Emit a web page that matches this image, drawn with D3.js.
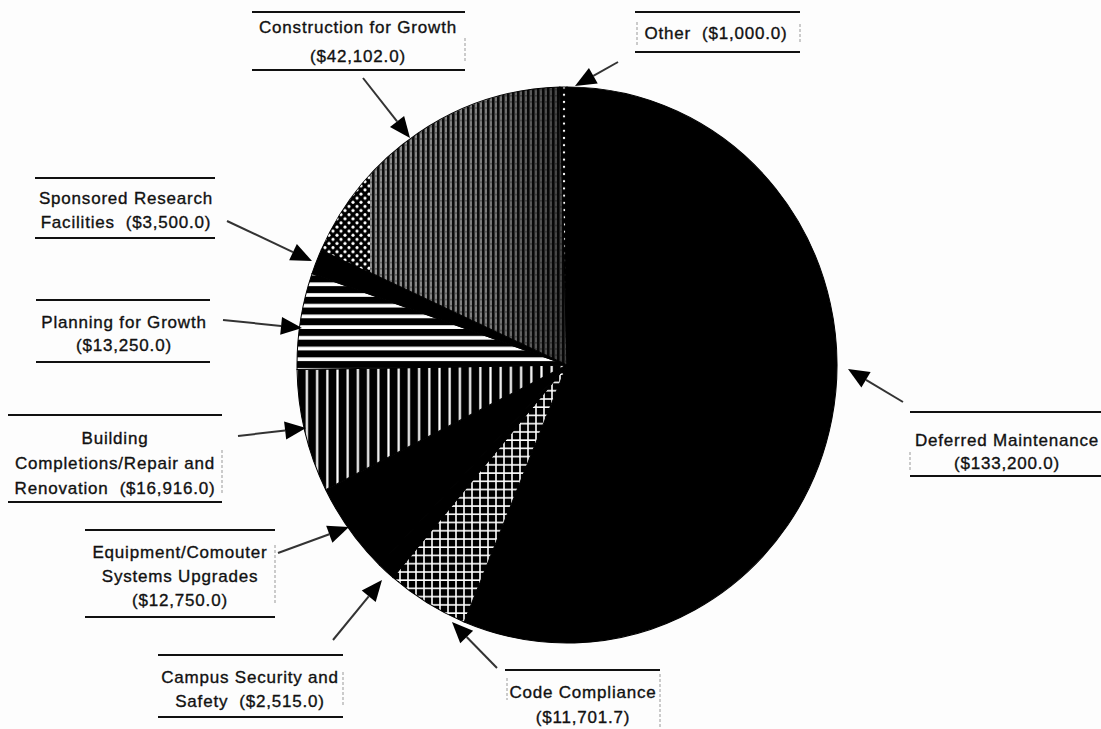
<!DOCTYPE html>
<html>
<head>
<meta charset="utf-8">
<script src="https://cdn.jsdelivr.net/npm/d3@7"></script>
<style>
  html, body { margin: 0; padding: 0; background: #fdfdfd; }
  svg { display: block; }
  .lbl { font-family: "Liberation Sans", Arial, Helvetica, sans-serif; font-size: 17px; letter-spacing: 0.8px; fill: #111; stroke: #111; stroke-width: 0.35px; white-space: pre; }
</style>
</head>
<body>
<script>
// Capital request by program area (thousands of dollars), clockwise from 12 o'clock
const categories = [
  "Deferred Maintenance",
  "Code Compliance",
  "Campus Security and Safety",
  "Equipment/Comouter Systems Upgrades",
  "Building Completions/Repair and Renovation",
  "Planning for Growth",
  "Sponsored Research Facilities",
  "Construction for Growth",
  "Other"
];
const values = [133200.0, 11701.7, 2515.0, 12750.0, 16916.0, 13250.0, 3500.0, 42102.0, 1000.0];

// How each label breaks into lines; {v} is replaced by the formatted amount
const labelLines = [
  ["Deferred Maintenance", "({v})"],
  ["Code Compliance", "({v})"],
  ["Campus Security and", "Safety  ({v})"],
  ["Equipment/Comouter", "Systems Upgrades", "({v})"],
  ["Building", "Completions/Repair and", "Renovation  ({v})"],
  ["Planning for Growth", "({v})"],
  ["Sponsored Research", "Facilities  ({v})"],
  ["Construction for Growth", "({v})"],
  ["Other  ({v})"]
];

// Fill style of each wedge
const fillKinds = ["solid", "grid", "solid", "solid", "vlines", "hlines", "solid", "fineV", "dots"];

// ---- layout ----
const W = 1101, H = 729;
const center = { x: 567, y: 365 };
const R = 270, yStretch = 278 / 270;

const labelLayout = {
  "Deferred Maintenance":                    { cx: 1007, ys: [440, 463], rx: [910, 1101], ry: [412, 476], arrow: [903, 402, 848, 369], sides: [[910, 452, 470]] },
  "Code Compliance":                         { cx: 583, ys: [692, 717], rx: [505, 660], ry: [670], arrow: [497, 668, 452, 622], sides: [[507, 678, 700], [660, 674, 729]] },
  "Campus Security and Safety":              { cx: 250, ys: [677, 701], rx: [158, 343], ry: [655, 717], arrow: [333, 640, 382, 580], sides: [[343, 672, 706]] },
  "Equipment/Comouter Systems Upgrades":     { cx: 180, ys: [552, 576, 600], rx: [85, 275], ry: [530, 617], arrow: [278, 553, 349, 527], sides: [[275, 545, 605]] },
  "Building Completions/Repair and Renovation": { cx: 115, ys: [438, 463, 488], rx: [8, 222], ry: [415, 502], arrow: [238, 436, 306, 428], sides: [[222, 450, 495]] },
  "Planning for Growth":                     { cx: 124, ys: [322, 345], rx: [36, 210], ry: [300, 362], arrow: [223, 320, 302, 328], sides: [] },
  "Sponsored Research Facilities":           { cx: 126, ys: [198, 222], rx: [35, 215], ry: [178, 238], arrow: [227, 221, 312, 261], sides: [] },
  "Construction for Growth":                 { cx: 358, ys: [27, 56], rx: [252, 465], ry: [12, 70], arrow: [363, 78, 410, 138], sides: [[465, 38, 62]] },
  "Other":                                   { cx: 716, ys: [33], rx: [635, 800], ry: [12, 52], arrow: [618, 62, 575, 86], sides: [[637, 22, 45], [800, 24, 44]] }
};

const fmt = v => "$" + d3.format(",.1f")(v);

const svg = d3.select("body").append("svg")
  .attr("width", W).attr("height", H)
  .attr("viewBox", `0 0 ${W} ${H}`);

svg.append("rect").attr("width", W).attr("height", H).attr("fill", "#fdfdfd");

// ---- fill patterns ----
const defs = svg.append("defs");

const grid = defs.append("pattern").attr("id", "p-grid")
  .attr("patternUnits", "userSpaceOnUse").attr("width", 8).attr("height", 8);
grid.append("rect").attr("width", 8).attr("height", 8).attr("fill", "#000");
grid.append("path").attr("d", "M0 1H8M1 0V8").attr("stroke", "#fff").attr("stroke-width", 1.6);

const vl = defs.append("pattern").attr("id", "p-vlines")
  .attr("patternUnits", "userSpaceOnUse").attr("width", 10.2).attr("height", 10);
vl.append("rect").attr("width", 10.2).attr("height", 10).attr("fill", "#000");
vl.append("rect").attr("x", 4).attr("width", 2.2).attr("height", 10).attr("fill", "#fff");

const hl = defs.append("pattern").attr("id", "p-hlines")
  .attr("patternUnits", "userSpaceOnUse").attr("width", 10).attr("height", 10.4);
hl.append("rect").attr("width", 10).attr("height", 10.4).attr("fill", "#000");
hl.append("rect").attr("y", 3).attr("width", 10).attr("height", 3.6).attr("fill", "#fff");

const fv = defs.append("pattern").attr("id", "p-fineV")
  .attr("patternUnits", "userSpaceOnUse").attr("width", 5).attr("height", 6);
fv.append("rect").attr("width", 5).attr("height", 6).attr("fill", "#9c9c9c");
fv.append("rect").attr("x", 0).attr("width", 2.6).attr("height", 6).attr("fill", "#0c0c0c");
fv.append("rect").attr("x", 2.6).attr("y", 2).attr("width", 2.4).attr("height", 1).attr("fill", "#555");

const dm = defs.append("pattern").attr("id", "p-diamond")
  .attr("patternUnits", "userSpaceOnUse").attr("width", 8).attr("height", 8);
dm.append("rect").attr("width", 8).attr("height", 8).attr("fill", "#000");
dm.append("circle").attr("cx", 2).attr("cy", 2).attr("r", 1.6).attr("fill", "#fff");
dm.append("circle").attr("cx", 6).attr("cy", 6).attr("r", 1.6).attr("fill", "#fff");

const dt = defs.append("pattern").attr("id", "p-dots")
  .attr("patternUnits", "userSpaceOnUse").attr("width", 6).attr("height", 7);
dt.append("rect").attr("width", 6).attr("height", 7).attr("fill", "#000");
dt.append("circle").attr("cx", 3).attr("cy", 3.5).attr("r", 1.2).attr("fill", "#fff");

const shade = defs.append("linearGradient").attr("id", "g-shade")
  .attr("gradientUnits", "userSpaceOnUse")
  .attr("x1", -R).attr("x2", 0).attr("y1", 0).attr("y2", 0);
shade.append("stop").attr("offset", 0).attr("stop-color", "#000").attr("stop-opacity", 0);
shade.append("stop").attr("offset", 0.7).attr("stop-color", "#000").attr("stop-opacity", 0.2);
shade.append("stop").attr("offset", 1).attr("stop-color", "#000").attr("stop-opacity", 0.6);

// Rim of the construction wedge carries a dotted screen on its left portion
defs.append("clipPath").attr("id", "c-rim")
  .append("rect").attr("x", -R - 5).attr("y", -R - 5).attr("width", (370 - center.x) + R + 5).attr("height", R);

const fillFor = k => k === "solid" ? "#000" : `url(#p-${k})`;

// ---- pie ----
const pie = d3.pie().sort(null).value(d => d.value);
const arc = d3.arc().innerRadius(0).outerRadius(R);

const data = categories.map((c, i) => ({ name: c, value: values[i], kind: fillKinds[i] }));
const arcs = pie(data);

const g = svg.append("g")
  .attr("transform", `translate(${center.x},${center.y}) scale(1,${yStretch})`);

g.selectAll("path.slice").data(arcs).join("path")
  .attr("class", "slice")
  .attr("d", arc)
  .attr("fill", d => fillFor(d.data.kind))
  .attr("stroke", "#000").attr("stroke-width", 1);

const constr = arcs.find(d => d.data.name === "Construction for Growth");
g.append("path").attr("d", arc(constr)).attr("fill", "url(#g-shade)");
g.append("path").attr("d", arc(constr)).attr("fill", "url(#p-diamond)").attr("clip-path", "url(#c-rim)");

// ---- labels ----
const lab = svg.append("g");

categories.forEach((c, i) => {
  const L = labelLayout[c];
  const lines = labelLines[i].map(s => s.replace("{v}", fmt(values[i])));
  const t = lab.append("text").attr("class", "lbl").attr("text-anchor", "middle")
    .attr("xml:space", "preserve");
  lines.forEach((s, j) => {
    t.append("tspan").attr("x", L.cx).attr("y", L.ys[j] + 6).text(s);
  });
  L.ry.forEach(y => {
    lab.append("line").attr("x1", L.rx[0]).attr("x2", L.rx[1]).attr("y1", y).attr("y2", y)
      .attr("stroke", "#111").attr("stroke-width", 2);
  });
  L.sides.forEach(([x, y1, y2]) => {
    lab.append("line").attr("x1", x).attr("x2", x).attr("y1", y1).attr("y2", y2)
      .attr("stroke", "#999").attr("stroke-width", 1).attr("stroke-dasharray", "3 2");
  });

  // leader arrow with a filled triangular head at the wedge
  const [x1, y1, x2, y2] = L.arrow;
  const dx = x2 - x1, dy = y2 - y1, len = Math.hypot(dx, dy);
  const ux = dx / len, uy = dy / len;
  const headLen = 21, headHalf = 9;
  const bx = x2 - ux * headLen, by = y2 - uy * headLen;
  lab.append("line").attr("x1", x1).attr("y1", y1).attr("x2", bx).attr("y2", by)
    .attr("stroke", "#333").attr("stroke-width", 2);
  lab.append("path")
    .attr("d", `M${x2},${y2}L${bx - uy * headHalf},${by + ux * headHalf}L${bx + uy * headHalf},${by - ux * headHalf}Z`)
    .attr("fill", "#000");
});
</script>
</body>
</html>
